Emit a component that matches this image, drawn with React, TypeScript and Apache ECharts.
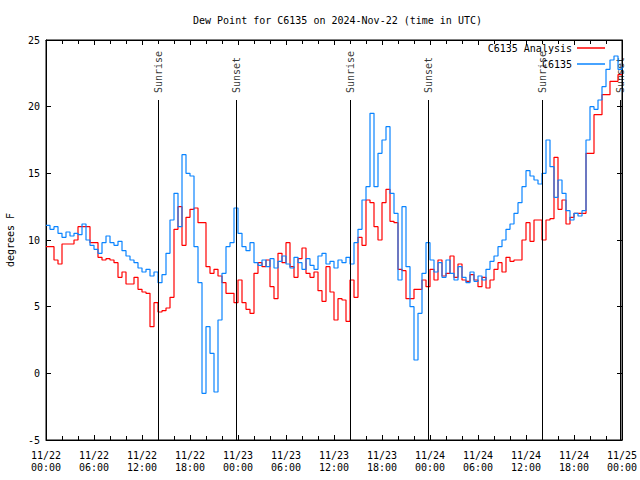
import React, { useEffect, useRef } from "react";
import * as echarts from "echarts";

// half-hourly samples starting 2024-11-22 00:00 UTC (hours from start = index * 0.5)
const STEP_HOURS = 0.5;

const analysis: number[] = [
  9.5, 9.5, 8.5, 8.2, 9.7, 9.7, 9.7, 10.0, 11.0, 11.0, 11.0, 9.8, 9.8, 8.7, 8.5, 8.6, 8.5, 8.3, 7.2, 7.6,
  6.7, 6.7, 7.2, 6.3, 6.1, 6.0, 3.5, 5.3, 4.6, 4.7, 4.9, 5.7, 10.8, 12.5, 9.6, 11.7, 12.3, 12.4, 11.3, 11.3,
  8.0, 7.5, 7.8, 7.3, 6.8, 6.0, 6.0, 5.3, 7.0, 5.3, 4.8, 4.5, 7.5, 8.3, 8.0, 8.5, 6.5, 5.6, 9.0, 8.3,
  9.8, 8.0, 7.2, 8.6, 9.4, 7.5, 7.2, 7.6, 6.2, 5.4, 8.0, 6.1, 4.0, 5.6, 5.5, 3.9, 7.0, 5.7, 10.2, 9.6,
  13.0, 12.8, 11.0, 10.0, 12.8, 13.8, 11.4, 11.3, 7.8, 7.7, 5.6, 5.6, 6.3, 6.3, 7.0, 6.5, 7.8, 7.0, 8.5, 7.3,
  7.5, 8.8, 7.2, 8.2, 7.0, 6.9, 7.4, 7.0, 6.5, 7.2, 6.4, 7.0, 7.8, 8.3, 7.6, 8.7, 8.4, 8.5, 8.5, 10.0,
  11.3, 9.9, 11.5, 11.5, 10.0, 11.5, 11.6, 16.2, 12.3, 13.0, 11.2, 11.7, 12.0, 12.0, 12.0, 16.5, 16.5, 19.4, 19.4, 20.9,
  20.9, 21.9, 21.9, 22.4, 22.4,
];

const observed: number[] = [
  11.1, 10.8, 11.0, 10.5, 10.2, 10.6, 10.3, 10.5, 10.4, 11.2, 10.0, 9.6, 9.3, 9.0, 9.8, 10.3, 9.8, 9.6, 9.9, 9.2,
  8.8, 8.5, 8.3, 7.9, 7.6, 7.8, 7.3, 7.6, 6.8, 7.4, 9.0, 11.5, 13.5, 11.0, 16.4, 15.0, 14.8, 9.5, 6.8, -1.5,
  3.5, 1.5, -1.4, 4.0, 7.5, 9.5, 9.8, 12.4, 10.5, 9.5, 9.2, 9.8, 8.3, 8.1, 8.5, 8.0, 8.6, 7.9, 8.4, 8.8,
  8.2, 7.9, 8.7, 8.3, 7.8, 8.6, 8.1, 7.8, 8.8, 9.0, 8.2, 8.4, 7.9, 8.5, 8.3, 8.7, 8.2, 9.8, 10.8, 13.0,
  14.0, 19.5, 14.0, 16.5, 17.5, 18.5, 13.5, 12.0, 7.0, 12.5, 8.0, 5.0, 1.0, 4.5, 7.5, 9.8, 8.5, 7.6, 8.3, 7.2,
  8.5, 7.5, 7.0, 8.0, 7.2, 6.8, 7.6, 6.9, 7.3, 7.0, 7.8, 8.4, 8.8, 9.5, 10.0, 10.8, 11.2, 12.0, 12.8, 14.0,
  15.2, 14.8, 14.5, 14.2, 15.0, 17.5, 15.5, 13.2, 14.5, 13.5, 12.2, 11.5, 12.0, 11.8, 12.2, 17.5, 20.0, 19.8, 20.5, 21.5,
  22.8, 23.5, 23.8, 22.8, 23.0,
];

// sun events, hours from 11/22 00:00 UTC
const sunHours: number[] = [14, 23.75, 38, 47.75, 62, 71.75];
const sunNames: string[] = ["Sunrise", "Sunset", "Sunrise", "Sunset", "Sunrise", "Sunset"];
const sunLineTop = 20.5;

const yTicks = { min: -5, max: 25, interval: 5 };
const xTicks = { min: 0, max: 72, interval: 6 };

const FONT = "DejaVu Sans Mono";

export default function App() {
  const ref = useRef<HTMLDivElement>(null);
  useEffect(() => {
    if (!ref.current) return;
    const chart = echarts.init(ref.current, null, { renderer: "svg" });
    const toPairs = (arr: number[]) => arr.map((v, i) => [i * STEP_HOURS, v]);
    const fmtX = (v: number) => {
      const day = 22 + Math.floor(v / 24);
      const hr = Math.round(v % 24);
      return `11/${day}\n${hr < 10 ? "0" + hr : hr}:00`;
    };
    const axisLine = { show: true, onZero: false, lineStyle: { color: "#000", width: 1 } };
    chart.setOption({
      animation: false,
      backgroundColor: "#fff",
      textStyle: { fontFamily: FONT, fontSize: 10, color: "#000" },
      title: {
        text: "Dew Point for C6135 on 2024-Nov-22 (time in UTC)",
        left: 188,
        top: 10,
        textStyle: { fontFamily: FONT, fontSize: 10, fontWeight: "normal", color: "#000" },
      },
      legend: {
        orient: "vertical",
        right: 30,
        top: 38,
        align: "right",
        itemGap: 6,
        itemWidth: 28,
        itemHeight: 1.5,
        icon: "rect",
        textStyle: { fontFamily: FONT, fontSize: 10, color: "#000" },
        data: ["C6135 Analysis", "C6135"],
      },
      grid: {
        left: 46,
        right: 18,
        top: 40,
        bottom: 40,
        containLabel: false,
        outerBoundsMode: "none",
        show: true,
        borderColor: "#000",
        borderWidth: 1,
      },
      xAxis: [
        {
          type: "value",
          min: xTicks.min,
          max: xTicks.max,
          interval: xTicks.interval,
          axisLine,
          axisTick: { inside: true, length: 5, lineStyle: { color: "#000" } },
          minorTick: { show: true, splitNumber: 3, length: 4, lineStyle: { color: "#000" } },
          splitLine: { show: false },
          axisLabel: {
            formatter: fmtX,
            fontFamily: FONT,
            fontSize: 10,
            color: "#000",
            margin: 9,
            lineHeight: 12,
            hideOverlap: false,
          },
        },
        {
          type: "value",
          position: "top",
          min: xTicks.min,
          max: xTicks.max,
          interval: xTicks.interval,
          axisLine,
          axisTick: { inside: true, length: 5, lineStyle: { color: "#000" } },
          minorTick: { show: true, splitNumber: 3, length: 4, lineStyle: { color: "#000" } },
          splitLine: { show: false },
          axisLabel: { show: false },
        },
      ],
      yAxis: [
        {
          type: "value",
          min: yTicks.min,
          max: yTicks.max,
          interval: yTicks.interval,
          name: "degrees F",
          nameLocation: "middle",
          nameGap: 31,
          nameTextStyle: { fontFamily: FONT, fontSize: 10, color: "#000" },
          axisLine,
          axisTick: { inside: true, length: 5, lineStyle: { color: "#000" } },
          splitLine: { show: false },
          axisLabel: { fontFamily: FONT, fontSize: 10, color: "#000", margin: 6 },
        },
        {
          type: "value",
          position: "right",
          min: yTicks.min,
          max: yTicks.max,
          interval: yTicks.interval,
          axisLine,
          axisTick: { inside: true, length: 5, lineStyle: { color: "#000" } },
          splitLine: { show: false },
          axisLabel: { show: false },
        },
      ],
      series: [
        {
          name: "C6135 Analysis",
          type: "line",
          step: "end",
          showSymbol: false,
          symbol: "none",
          color: "#ff0000",
          lineStyle: { color: "#ff0000", width: 1.2 },
          data: toPairs(analysis),
        },
        {
          name: "C6135",
          type: "line",
          step: "end",
          showSymbol: false,
          symbol: "none",
          color: "#0a84ff",
          lineStyle: { color: "#0a84ff", width: 1.2 },
          data: toPairs(observed),
        },
        {
          name: "sun",
          type: "scatter",
          symbolSize: 0,
          silent: true,
          data: sunHours.map((h, i) => [h, sunLineTop, sunNames[i]]),
          label: {
            show: true,
            position: "top",
            distance: 7,
            rotate: 90,
            align: "left",
            verticalAlign: "middle",
            formatter: (p: any) => p.value[2],
            fontFamily: FONT,
            fontSize: 10,
            color: "#000",
          },
          markLine: {
            silent: true,
            symbol: "none",
            label: { show: false },
            lineStyle: { color: "#000", width: 1, type: "solid" },
            data: sunHours.map((h) => [{ coord: [h, sunLineTop] }, { coord: [h, yTicks.min] }]),
          },
        },
      ],
    });
    return () => chart.dispose();
  }, []);
  return (
    <div
      ref={ref}
      style={{ position: "fixed", left: 0, top: 0, width: 640, height: 480 }}
    />
  );
}
